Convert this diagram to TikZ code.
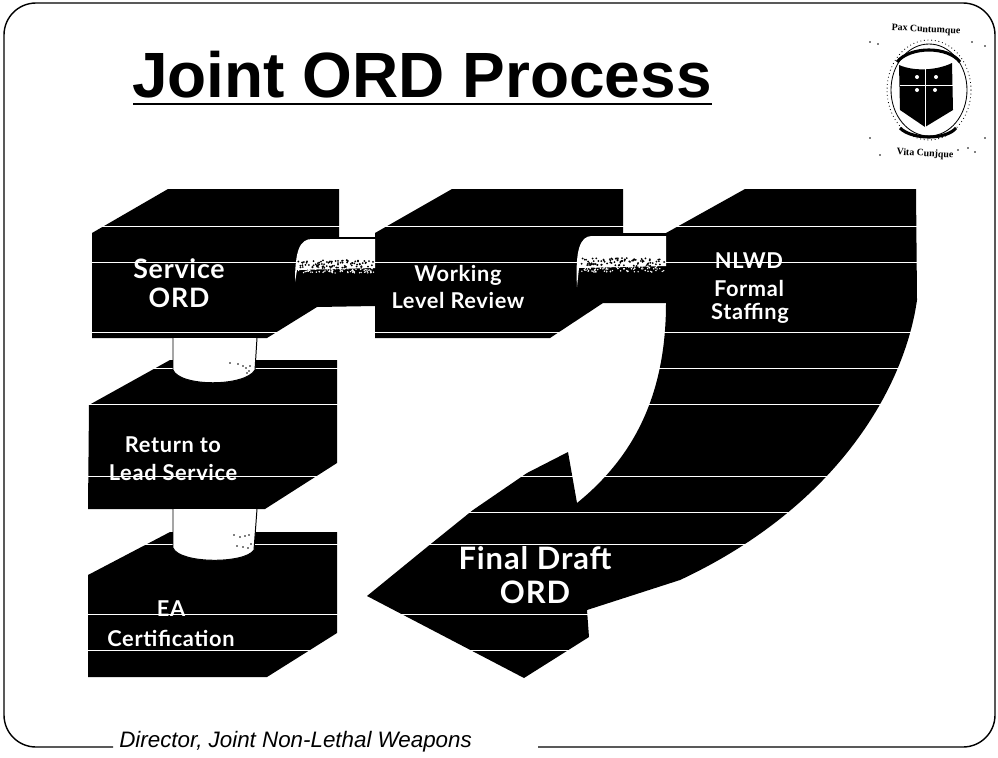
\documentclass[tikz,border=0pt]{standalone}
\usepackage{fontspec}
\setmainfont{Liberation Sans}
\newfontfamily\lblfont[LetterSpace=3]{Lato}
\newfontfamily\sealfont{Liberation Serif}
\tikzset{
  block/.style={fill=black},
  joint/.style={draw=black,line width=0.7pt,fill=white},
  biglabel/.style={text=white,font=\lblfont\bfseries\fontsize{19}{19}\selectfont,inner sep=0pt},
  smalllabel/.style={text=white,font=\lblfont\bfseries\fontsize{15.5}{15.5}\selectfont,inner sep=0pt},
  seallabel/.style={font=\sealfont\bfseries\fontsize{7}{7}\selectfont,inner sep=0pt},
}
\begin{document}
\begin{tikzpicture}[x=0.025cm,y=-0.025cm]
\useasboundingbox (0,0) rectangle (998,757);

% frame
\draw[line width=1pt,rounded corners=0.8cm] (113,747) -- (4,747) -- (4,3) -- (995,3) -- (995,747) -- (538,747);

% title and footer
\node[anchor=base,inner sep=0pt,font=\bfseries\fontsize{45.5}{45.5}\selectfont] (title) at (422,97) {Joint ORD Process};
\draw[line width=2pt] (133,104) -- (712,104);
\node[anchor=west,inner sep=0pt,font=\itshape\fontsize{15.9}{15.9}\selectfont] (footer) at (119,742) {Director, Joint Non-Lethal Weapons};

% blocks
\fill[block] (92,233) -- (168,189) -- (339,189) -- (339,237) -- (375,237) -- (375,306) -- (317,307) -- (267,338) -- (92,338) -- cycle;
\fill[block] (375,233) -- (452,189) -- (623,189) -- (623,233) -- (666,233) -- (666,303) -- (603,303) -- (550,338) -- (375,338) -- cycle;
\fill[block] (89,405) -- (170,360) -- (337,360) -- (337,463) -- (265,509) -- (88,509) -- cycle;
\fill[block] (88,575) -- (170,532) -- (337,532) -- (337,633) -- (267,677) -- (88,677) -- cycle;

% big arrow
\fill[block] (666,233) -- (745,189) -- (916,189) -- (917,300)
  .. controls (905,385) and (840,505) .. (680,580) -- (587,610) -- (589,637) -- (524,678) -- (367,596)
  -- (432,543) -- (473,510) -- (527,473) -- (568,452) -- (577,503)
  .. controls (630,460) and (666,400) .. (666,303) -- cycle;

% scan lines
\foreach \ypos in {226,262,332,368,404,476,512,544,614,650}
  \draw[white,line width=0.4pt] (85,\ypos) -- (925,\ypos);

% horizontal joints
\fill[white] (295,282) .. controls (295,250) and (300,239) .. (312,239) -- (375,239) -- (375,268) -- (297,270) -- cycle;
\fill[white] (577,287) .. controls (575,250) and (580,236) .. (592,236) -- (666,236) -- (666,266) -- (579,268) -- cycle;
\pgfmathsetseed{7}
\foreach \i in {1,...,90}{
  \pgfmathsetmacro{\xa}{298+76*rnd}
  \pgfmathsetmacro{\ya}{260+8*rnd}
  \pgfmathsetmacro{\xb}{298+76*rnd}
  \pgfmathsetmacro{\yb}{268+5*rnd}
  \pgfmathsetmacro{\xc}{581+84*rnd}
  \pgfmathsetmacro{\yc}{258+8*rnd}
  \pgfmathsetmacro{\xd}{581+84*rnd}
  \pgfmathsetmacro{\yd}{266+6*rnd}
  \fill[black] (\xa,\ya) circle (1);
  \fill[white] (\xb,\yb) circle (0.8);
  \fill[black] (\xc,\yc) circle (1);
  \fill[white] (\xd,\yd) circle (0.8);
}

% vertical joints
\filldraw[joint] (173,338) -- (173,370) .. controls (180,387) and (245,387) .. (255,370) -- (257,338);
\filldraw[joint] (173,509) -- (173,548) .. controls (180,564) and (245,564) .. (254,550) -- (257,509);
\foreach \xa/\ya in {230/363,238/364,243/366,246/368,249/371,247/373,250/366,
                     234/535,240/537,245/536,249/535,237/546,243/547,248/548,251/544}
  \fill[black] (\xa,\ya) circle (0.9);

% labels
\node[biglabel] (service) at (179,269) {Service};
\node[biglabel] (serviceord) at (179,298) {ORD};
\node[smalllabel] (working) at (458,275) {Working};
\node[smalllabel] (review) at (458,300) {Level Review};
\node[smalllabel] (nlwd) at (749,261) {NLWD};
\node[smalllabel] (formal) at (749,288) {Formal};
\node[smalllabel] (staffing) at (750,313) {Staffing};
\node[smalllabel] (returnto) at (173,445) {Return to};
\node[smalllabel] (lead) at (173,472) {Lead Service};
\node[smalllabel] (ea) at (171,609) {EA};
\node[smalllabel] (cert) at (171,638) {Certification};
\node[biglabel,font=\lblfont\bfseries\fontsize{22}{22}\selectfont] (final) at (535,558) {Final Draft};
\node[biglabel,font=\lblfont\bfseries\fontsize{22}{22}\selectfont] (finalord) at (535,592) {ORD};

% seal
\node[seallabel,rotate=-3] (sealtop) at (926,30) {Pax Cuntumque};
\node[seallabel,rotate=-3] (sealbottom) at (925,154) {Vita Cunjque};
\draw[line width=0.6pt] (929,90) ellipse (38 and 46);
\draw[dotted,line width=0.6pt] (929,90) ellipse (42 and 50);
\draw[line width=2.2pt] (897,62) .. controls (910,46) and (948,46) .. (960,62);
\draw[line width=2.2pt] (900,128) .. controls (912,140) and (946,140) .. (956,128);
\fill[black] (899,65) .. controls (915,72) and (938,70) .. (952,63) -- (953,110) -- (925,127) -- (900,110) -- cycle;
\draw[white,line width=0.5pt] (925,68) -- (925,127) (900,85) -- (953,85);
\foreach \xa/\ya in {917/77,936/77,917/90,935/90}
  \fill[white] (\xa,\ya) circle (2);
\foreach \xa/\ya in {870/42,878/44,972/42,985/46,870/138,985/138,958/150,968/148,975/152,880/155}
  \fill[black] (\xa,\ya) circle (0.8);
\end{tikzpicture}
\end{document}
